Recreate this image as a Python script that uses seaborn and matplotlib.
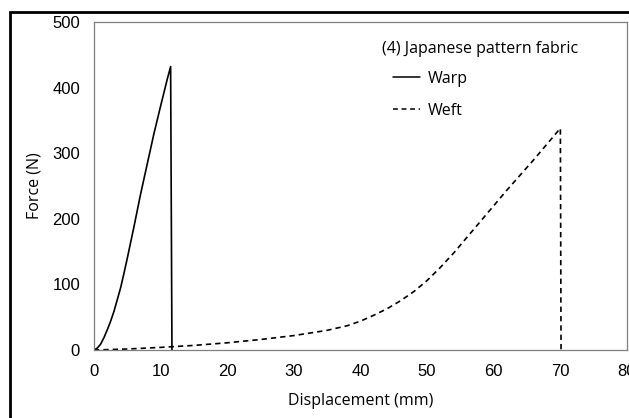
import matplotlib
matplotlib.use("Agg")
import matplotlib.pyplot as plt
import seaborn as sns
import pandas as pd
from matplotlib.patches import Rectangle

# Data
warp_x = [0, 0.5, 1, 1.5, 2, 2.5, 3, 3.5, 4, 4.5, 5, 6, 7, 8, 9, 10, 11, 11.5, 11.7]
warp_y = [0, 3, 9, 19, 31, 44, 59, 77, 95, 117, 140, 188, 238, 284, 330, 372, 413, 432, 0]
weft_x = [0, 5, 10, 15, 20, 25, 30, 35, 38, 40, 42, 44, 46, 48, 50, 52, 54, 56, 58, 60,
          62, 64, 66, 68, 70, 70.1]
weft_y = [0, 1.5, 4, 7, 11, 16, 22, 30, 37, 44, 53, 63, 75, 89, 106, 126, 148, 172, 196,
          220, 244, 267, 290, 314, 338, 0]
x_ticks = [0, 10, 20, 30, 40, 50, 60, 70, 80]
y_ticks = [0, 100, 200, 300, 400, 500]
legend_title = "(4) Japanese pattern fabric"
series_names = ["Warp", "Weft"]

sns.set_theme(style="white")
plt.rcParams['font.family'] = ['Open Sans', 'DejaVu Sans']
plt.rcParams['text.color'] = 'black'
plt.rcParams['axes.labelcolor'] = 'black'

fig = plt.figure(figsize=(6.29, 4.18), dpi=100)
ax = fig.add_axes([94/629, 1-350/418, (627-94)/629, (350-22)/418])

df_warp = pd.DataFrame({"x": warp_x, "y": warp_y})
df_weft = pd.DataFrame({"x": weft_x, "y": weft_y})
sns.lineplot(data=df_warp, x="x", y="y", ax=ax, color="black", lw=1.2,
             sort=False, estimator=None, label=series_names[0])
sns.lineplot(data=df_weft, x="x", y="y", ax=ax, color="black", lw=1.2,
             sort=False, estimator=None, label=series_names[1], linestyle=(0, (3.2, 2.4)))

ax.set_xlim(0, 80)
ax.set_ylim(0, 500)
ax.set_xticks(x_ticks)
ax.set_yticks(y_ticks)
ax.set_xticklabels([str(t) for t in x_ticks], fontfamily="Liberation Sans", fontsize=12)
ax.set_yticklabels([str(t) for t in y_ticks], fontfamily="Liberation Sans", fontsize=12)
ax.tick_params(axis='both', length=0, colors="black")
ax.tick_params(axis='x', pad=10)
ax.tick_params(axis='y', pad=10)
for s in ax.spines.values():
    s.set_color("#7f7f7f")
    s.set_linewidth(0.9)
ax.set_xlabel("Displacement (mm)", fontsize=11.5, labelpad=10, color="black")
ax.set_ylabel("Force (N)", fontsize=11.5, labelpad=7, color="black")

ax.text((382-94)/533, (350-49)/328, legend_title, transform=ax.transAxes,
        fontsize=11.5, ha="left", va="center", color="black")
leg = ax.legend(frameon=False, loc="upper left",
                bbox_to_anchor=((393-94)/533, (350-71)/328), fontsize=11.5,
                handlelength=1.7, handletextpad=0.5,
                labelspacing=1.0, borderpad=0, borderaxespad=0, labelcolor="black")
for h in leg.legend_handles:
    h.set_linewidth(1.1)

fig.add_artist(Rectangle((10/629, -0.05), 1.2, 1-12/418+0.05, transform=fig.transFigure,
                         fill=False, edgecolor="black", lw=2))

fig.savefig("out.png", dpi=100, facecolor="white")
